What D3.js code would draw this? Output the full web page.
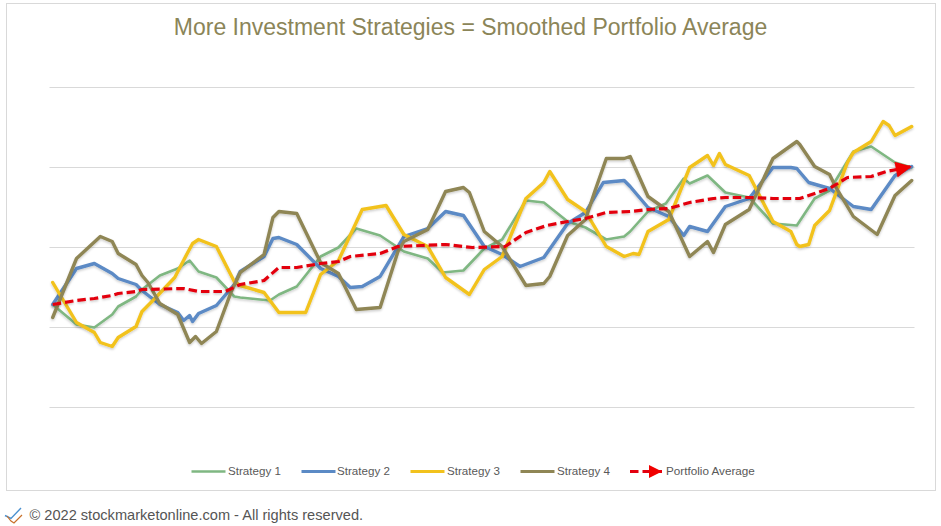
<!DOCTYPE html>
<html><head><meta charset="utf-8">
<script src="https://cdn.jsdelivr.net/npm/d3@7/dist/d3.min.js"></script>
<style>html,body{margin:0;padding:0;background:#fff}svg{display:block;font-family:"Liberation Sans",Arial,sans-serif}</style>
</head><body><svg id="c" width="941" height="526"></svg>
<script>
const title = "More Investment Strategies = Smoothed Portfolio Average";
const footer = "© 2022 stockmarketonline.com - All rights reserved.";
const gridTicks = [0,80,160,240,320];
const seriesNames = ["Strategy 1","Strategy 2","Strategy 3","Strategy 4","Portfolio Average"];
const seriesColors = ["#7fb782","#5b8ac5","#f2c21d","#8f8655","#e3000f"];
const periodMax = 144.3;
// [period, value]
const strategy1 = [[0,103],[4,83],[7,80],[10,93],[11,101],[14,111],[15,118],[18,132],[21,139],[23,147],[24.5,136],[27.5,130],[30.5,111],[31.5,110],[36.5,107],[38,113],[41,121],[45,151],[48,160],[51,179],[55,172],[59,156],[63,149],[65.5,135],[69,137],[72.5,159],[75.5,168],[79.5,207],[82.5,205],[86.5,186],[89.5,180],[93,168],[96,171],[97,176],[100,196],[103,204],[106,229],[107,224],[110,232],[113,215],[117,210],[121,184],[125,182],[128,209],[130.5,217],[134.5,256],[137.5,261],[141.5,245],[144.3,240]];
const strategy2 = [[0,103],[4,139],[7,144],[10,134],[11,129],[14,123],[15,117],[18,103],[21,95],[22,87],[23,92],[23.5,86],[24.5,94],[27.5,102],[30.5,123],[31.5,136],[35.5,151],[37,169],[38,170],[41,163],[45,139],[48,131],[50,120],[52,121],[55,131],[59,171],[63,179],[66,196],[69,192],[72.5,161],[75.5,153],[78.5,141],[82.5,150],[86.5,184],[89.5,195],[92.5,225],[96,227],[97,221],[100,200],[103.5,191],[106,172],[107,181],[110,176],[113,201],[117,209],[121,240],[124,240],[125,239],[127,225],[130.5,219],[134.5,201],[137.5,198],[141.5,232],[144.3,241]];
const strategy3 = [[0,125],[4,85],[7,75],[8,65],[10,61],[11,70],[14,81],[15,96],[17,108],[20.5,130],[22.5,153],[23.5,164],[24.5,168],[27.5,161],[30.5,126],[31.5,122],[35.5,115],[38,95],[42.5,95],[45,133],[48,147],[52,198],[56,202],[59,173],[63,161],[66,130],[70,113],[72.5,138],[75.5,151],[79.5,209],[82.5,225],[83.5,236],[86.5,208],[89.5,196],[93,161],[96,151],[97.5,154],[98.5,153],[100,176],[103.5,188],[107,240],[110,252],[111,242],[112,254],[113,243],[117,232],[121,186],[124,176],[125,163],[125.5,161],[127,163],[128,182],[130.5,197],[133.5,245],[134.5,255],[137.5,266],[139.5,286],[140.5,282],[141.5,272],[144.3,281]];
const strategy4 = [[0,90],[4,149],[6,160],[8,171],[10,166],[11,154],[14,143],[15,132],[16,125],[18,104],[21,93],[23,65],[24,71],[25,64],[27.5,76],[30,116],[31.5,135],[35.5,153],[37,190],[38,196],[41,194],[45,145],[48,134],[51,98],[55,100],[58,156],[59,166],[63,178],[66,216],[69,220],[70,215],[72.5,176],[75.5,161],[79.5,122],[82.5,124],[83.5,131],[86.5,172],[89.5,188],[91,215],[93,249],[96,249],[97,251],[100,211],[103.5,196],[107,151],[110,166],[111,155],[113,183],[117,198],[121,249],[125,266],[125.5,263],[128,241],[130.5,233],[131.5,221],[134.5,191],[138.5,173],[141.5,212],[144.3,227]];
const portfolioAverage = [[0,103],[4,107],[7,109],[10,112],[11,114],[14,116],[15,118],[22,119],[24.5,116],[29,116],[31.5,123],[35.5,127],[38,140],[41,140],[45,144],[48,146],[50,151],[55,154],[58,161],[62,162],[66,163],[70.5,160],[76,161],[79.5,175],[83,182],[86.5,186],[89.5,189],[93,195],[97,196],[100,198],[103.5,199],[107,205],[111,209],[113,210],[117,210],[121,209],[125.5,209],[128,214],[130.5,219],[133.5,230],[137.5,231],[140,236],[144.3,241]];
const allSeries = [strategy1,strategy2,strategy3,strategy4,portfolioAverage];

const svg = d3.select("#c");
const defs = svg.append("defs");
const f = defs.append("filter").attr("id","sh").attr("filterUnits","userSpaceOnUse").attr("x",0).attr("y",0).attr("width",941).attr("height",526);
f.append("feDropShadow").attr("dx",0).attr("dy",1.5).attr("stdDeviation",1).attr("flood-color","#000").attr("flood-opacity",0.2);
function mk(id,w,h){
  defs.append("marker").attr("id",id).attr("markerUnits","userSpaceOnUse").attr("viewBox","0 0 10 10").attr("refX",10).attr("refY",5)
   .attr("markerWidth",w).attr("markerHeight",h).attr("orient","auto").append("path").attr("d","M0,0L10,5L0,10Z").attr("fill","#f00000");
}
mk("arr",18,16); mk("arrL",15,13);

svg.append("rect").attr("x",6.5).attr("y",3.5).attr("width",929).attr("height",487).attr("fill","#fff").attr("stroke","#d9d9d9");

const x = d3.scaleLinear().domain([0,periodMax]).range([52.7,911.7]);
const y = d3.scaleLinear().domain([0,320]).range([407.5,87.5]);

const gridAxis = d3.axisLeft(y).tickValues(gridTicks).tickSize(-865).tickFormat("").offset(0);
const g = svg.append("g").attr("transform","translate(49.5,0)").call(gridAxis);
g.select(".domain").remove();
g.selectAll(".tick line").attr("stroke","#d9d9d9").attr("stroke-width",1);

svg.append("text").attr("x",470.5).attr("y",35).attr("text-anchor","middle").attr("font-size",23).attr("fill","#8b8558").text(title);

const line = d3.line().x(d=>x(d[0])).y(d=>y(d[1]));
const marks = svg.append("g");
allSeries.forEach((s,i)=>{
  const p = marks.append("path").datum(s).attr("d",line).attr("fill","none").attr("stroke",seriesColors[i])
    .attr("stroke-linejoin","round").attr("filter","url(#sh)");
  if(i<4){ p.attr("stroke-width", i===0?2.6:3.4).attr("stroke-linecap","round"); }
  else { p.attr("stroke-width",3.2).attr("stroke-dasharray","8.5,4").attr("marker-end","url(#arr)"); }
});

const legendX = [190,300,409,519,630];
const legendTextX = [228,337,447,557,666];
const ly = 471.5;
const lg = svg.append("g");
seriesNames.forEach((n,i)=>{
  const l = lg.append("line").attr("x1",legendX[i]+ (i==4?0:1.5)).attr("x2",i==4?662:legendX[i]+35.5).attr("y1",ly).attr("y2",ly).attr("stroke",seriesColors[i]).attr("stroke-width",i==0?2.6:3.2);
  if(i==4) l.attr("stroke-dasharray","8.5,4").attr("marker-end","url(#arrL)");
  lg.append("text").attr("x",legendTextX[i]).attr("y",475).attr("font-size",i==4?11.7:11.6).attr("fill","#595959").text(n);
});

svg.append("path").attr("d","M5,515.5L11,518.5L21,508").attr("fill","none").attr("stroke","#4a90cf").attr("stroke-width",1.4);
svg.append("path").attr("d","M7,516L11,521L14,523L22,515").attr("fill","none").attr("stroke","#c8702a").attr("stroke-width",1.2);
svg.append("text").attr("x",29.5).attr("y",520).attr("font-size",14.6).attr("fill","#555").text(footer);
</script></body></html>
